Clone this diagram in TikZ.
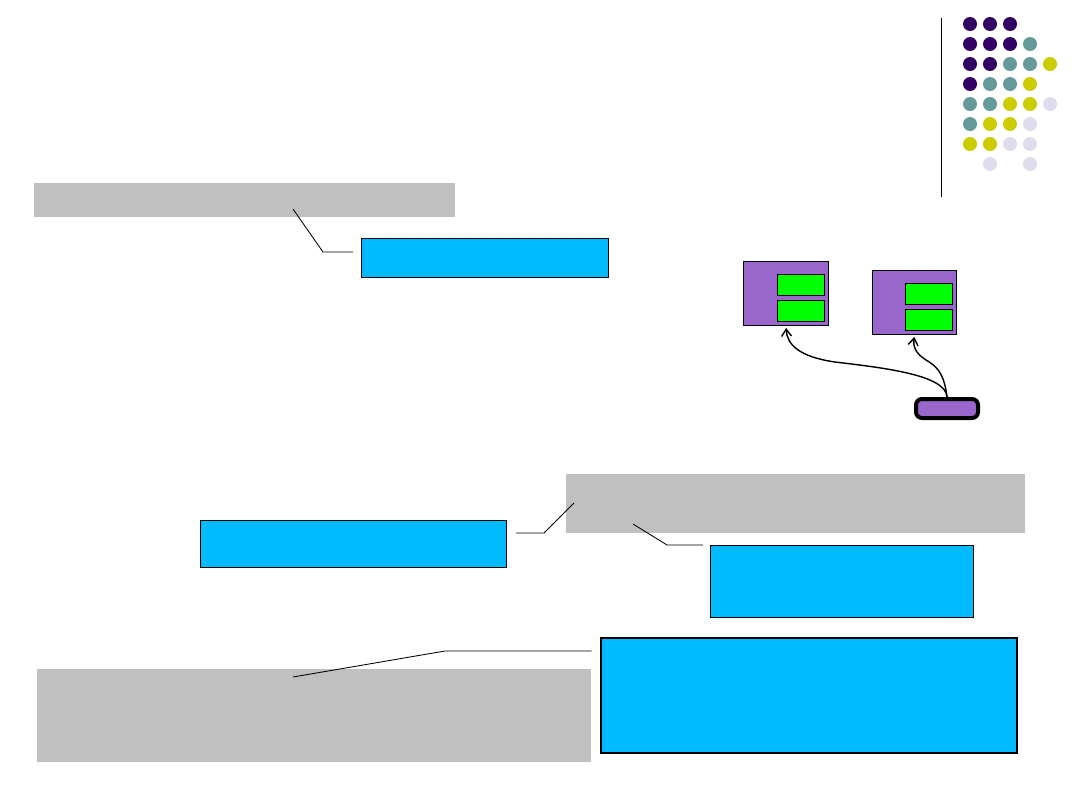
\documentclass[tikz,border=0pt]{standalone}
\usepackage{tikz}
\usepackage[svgnames]{xcolor}
\usetikzlibrary{positioning}
\usetikzlibrary{arrows.meta}
\definecolor{calloutgray}{HTML}{C0C0C0}
\definecolor{calloutblue}{HTML}{00BAFF}
\definecolor{objpurple}{HTML}{9966CC}
\definecolor{fieldgreen}{HTML}{00FF00}
\definecolor{dotpurple}{HTML}{330066}
\definecolor{dotteal}{HTML}{669999}
\definecolor{dotyellow}{HTML}{CCCC00}
\definecolor{dotlav}{HTML}{DDDDEE}
\newcommand{\px}{0.025cm}
\tikzset{graybox/.style = {fill=calloutgray, inner sep=0, anchor=north west}}
\tikzset{bluebox/.style = {fill=calloutblue, draw=black, line width=0.7pt, inner sep=0, anchor=north west}}
\tikzset{objbox/.style = {fill=objpurple, draw=black, line width=0.7pt, inner sep=0, anchor=north west}}
\tikzset{fieldbox/.style = {fill=fieldgreen, draw=black, line width=0.7pt, inner sep=0, anchor=north west,
                            minimum width=47*\px, minimum height=21*\px}}
\tikzset{dot/.style = {circle, inner sep=0, minimum size=14*\px}}
\tikzset{callout/.style = {draw=black, line width=0.6pt}}
\tikzset{ref/.style = {draw=black, line width=1pt, -{Straight Barb[length=5pt,width=7pt]}}}

\begin{document}
\begin{tikzpicture}[x=\px, y=-\px]
        \useasboundingbox (0,0) rectangle (1080,810);
        % corner dots
        \draw[line width=0.7pt] (941,18) -- (941,197);
        \node[dot, fill=dotpurple] (d11) at (970,24) {};
        \node[dot, fill=dotpurple] (d12) at (990,24) {};
        \node[dot, fill=dotpurple] (d13) at (1010,24) {};
        \node[dot, fill=dotpurple] (d21) at (970,44) {};
        \node[dot, fill=dotpurple] (d22) at (990,44) {};
        \node[dot, fill=dotpurple] (d23) at (1010,44) {};
        \node[dot, fill=dotteal] (d24) at (1030,44) {};
        \node[dot, fill=dotpurple] (d31) at (970,64) {};
        \node[dot, fill=dotpurple] (d32) at (990,64) {};
        \node[dot, fill=dotteal] (d33) at (1010,64) {};
        \node[dot, fill=dotteal] (d34) at (1030,64) {};
        \node[dot, fill=dotyellow] (d35) at (1050,64) {};
        \node[dot, fill=dotpurple] (d41) at (970,84) {};
        \node[dot, fill=dotteal] (d42) at (990,84) {};
        \node[dot, fill=dotteal] (d43) at (1010,84) {};
        \node[dot, fill=dotyellow] (d44) at (1030,84) {};
        \node[dot, fill=dotteal] (d51) at (970,104) {};
        \node[dot, fill=dotteal] (d52) at (990,104) {};
        \node[dot, fill=dotyellow] (d53) at (1010,104) {};
        \node[dot, fill=dotyellow] (d54) at (1030,104) {};
        \node[dot, fill=dotlav] (d55) at (1050,104) {};
        \node[dot, fill=dotteal] (d61) at (970,124) {};
        \node[dot, fill=dotyellow] (d62) at (990,124) {};
        \node[dot, fill=dotyellow] (d63) at (1010,124) {};
        \node[dot, fill=dotlav] (d64) at (1030,124) {};
        \node[dot, fill=dotyellow] (d71) at (970,144) {};
        \node[dot, fill=dotyellow] (d72) at (990,144) {};
        \node[dot, fill=dotlav] (d73) at (1010,144) {};
        \node[dot, fill=dotlav] (d74) at (1030,144) {};
        \node[dot, fill=dotlav] (d82) at (990,164) {};
        \node[dot, fill=dotlav] (d84) at (1030,164) {};
        % callout boxes
        \node[graybox, minimum width=421*\px, minimum height=34*\px] (grayA) at (34,183) {};
        \node[bluebox, minimum width=247*\px, minimum height=39*\px] (blueA) at (361,238) {};
        \node[graybox, minimum width=459*\px, minimum height=59*\px] (grayB) at (566,474) {};
        \node[bluebox, minimum width=306*\px, minimum height=47*\px] (blueB) at (200,520) {};
        \node[bluebox, minimum width=263*\px, minimum height=72*\px] (blueC) at (710,545) {};
        \node[graybox, minimum width=554*\px, minimum height=93*\px] (grayC) at (37,669) {};
        \node[bluebox, line width=1.4pt, minimum width=416*\px, minimum height=115*\px] (blueD) at (600,637) {};
        % objects
        \node[objbox, minimum width=85*\px, minimum height=64*\px] (objA) at (743,261) {};
        \node[fieldbox] (objAf1) at (777,274) {};
        \node[fieldbox] (objAf2) at (777,300) {};
        \node[objbox, minimum width=84*\px, minimum height=64*\px] (objB) at (872,270) {};
        \node[fieldbox] (objBf1) at (905,283) {};
        \node[fieldbox] (objBf2) at (905,309) {};
        \node[fill=objpurple, draw=black, line width=4*\px, rounded corners=6*\px, inner sep=0,
              minimum width=62*\px, minimum height=19*\px] (ref) at (947,408.5) {};
        % callout lines
        \coordinate (tipA) at (293,209);
        \coordinate (kneeA) at (323,252);
        \draw[callout] (tipA) -- (kneeA) -- ([xshift=-8*\px]kneeA -| blueA.west);
        \coordinate (tipB) at (574,503);
        \coordinate (kneeB) at (544,533);
        \draw[callout] (tipB) -- (kneeB) -- ([xshift=9*\px]blueB.east |- kneeB);
        \coordinate (tipC) at (633,524);
        \coordinate (kneeC) at (667,545);
        \draw[callout] (tipC) -- (kneeC) -- ([xshift=-7*\px]blueC.north west);
        \coordinate (tipD) at (293,677);
        \coordinate (kneeD) at (445,651);
        \draw[callout] (tipD) -- (kneeD) -- (grayC.east |- kneeD);
        % references
        \draw[ref, shorten >=2*\px] (ref.north) .. controls (946,375) and (885,368) .. (835,362)
              .. controls (800,357) and (787,345) .. (objA.south);
        \draw[ref, shorten >=2*\px] (ref.north) .. controls (944,372) and (936,366) .. (926,360)
              .. controls (915,353) and (913,346) .. (objB.south);
\end{tikzpicture}
\end{document}
